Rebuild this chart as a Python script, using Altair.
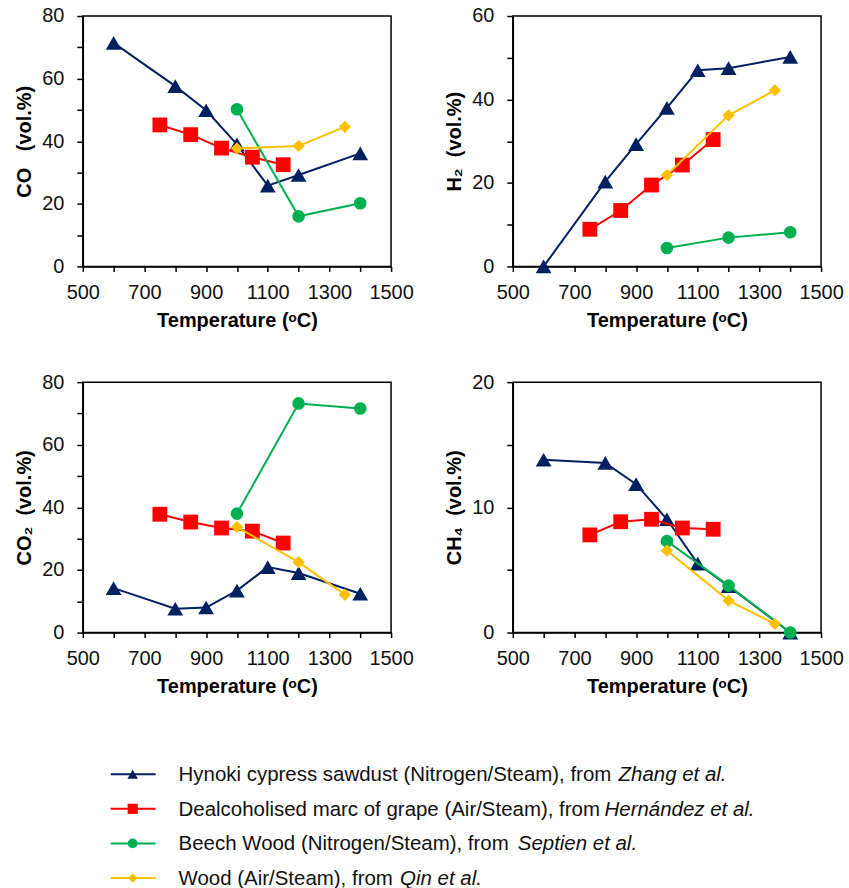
import altair as alt
import pandas as pd

# Temperatures (°C) at which each feedstock was gasified
hynoki_temp = [600, 800, 900, 1000, 1100, 1200, 1400]
grape_temp = [750, 850, 950, 1050, 1150]
beech_temp = [1000, 1200, 1400]
wood_temp = [1000, 1200, 1350]

# CO (vol.%)
co_hynoki = [71.4, 57.6, 49.9, 39.0, 25.8, 29.2, 36.1]
co_grape = [45.2, 42.1, 37.8, 34.9, 32.5]
co_beech = [50.2, 16.0, 20.2]
co_wood = [37.7, 38.5, 44.6]

# H2 (vol.%)
h2_hynoki = [0.0, 20.3, 29.3, 38.0, 47.0, 47.5, 50.2]
h2_grape = [8.9, 13.4, 19.5, 24.3, 30.4]
h2_beech = [4.4, 6.9, 8.2]
h2_wood = [21.9, 36.2, 42.2]

# CO2 (vol.%)
co2_hynoki = [14.2, 7.6, 8.0, 13.4, 20.9, 19.0, 12.4]
co2_grape = [37.8, 35.3, 33.4, 32.4, 28.6]
co2_beech = [38.0, 73.2, 71.6]
co2_wood = [33.7, 22.5, 12.1]

# CH4 (vol.%)
ch4_hynoki = [13.8, 13.55, 11.85, 9.05, 5.5, 3.7, 0.0]
ch4_grape = [7.8, 8.85, 9.05, 8.35, 8.25]
ch4_beech = [7.3, 3.75, 0.0]
ch4_wood = [6.55, 2.55, 0.7]

series_keys = ["hynoki", "grape", "beech", "wood"]
series_labels = [
    "Hynoki cypress sawdust (Nitrogen/Steam), from",
    "Dealcoholised marc of grape (Air/Steam), from",
    "Beech Wood (Nitrogen/Steam), from",
    "Wood (Air/Steam), from",
]
series_refs = ["Zhang et al.", "Hernández et al.", "Septien et al.", "Qin et al."]

temps = {"hynoki": hynoki_temp, "grape": grape_temp, "beech": beech_temp, "wood": wood_temp}
gases = {
    "CO": {"hynoki": co_hynoki, "grape": co_grape, "beech": co_beech, "wood": co_wood},
    "H2": {"hynoki": h2_hynoki, "grape": h2_grape, "beech": h2_beech, "wood": h2_wood},
    "CO2": {"hynoki": co2_hynoki, "grape": co2_grape, "beech": co2_beech, "wood": co2_wood},
    "CH4": {"hynoki": ch4_hynoki, "grape": ch4_grape, "beech": ch4_beech, "wood": ch4_wood},
}

# styling of each series
colors = {"hynoki": "#002060", "grape": "#ff0000", "beech": "#00b050", "wood": "#ffc000"}
shapes = {"hynoki": "triangle-up", "grape": "square", "beech": "circle", "wood": "diamond"}
sizes = {"hynoki": 250, "grape": 220, "beech": 160, "wood": 150}
legend_sizes = {"hynoki": 110, "grape": 90, "beech": 75, "wood": 90}

FONT = "Liberation Sans"
PANEL_W, PANEL_H = 309, 251


def panel(gas, title, y_max, tick_step, label_step):
    rows = []
    for key in series_keys:
        for t, v in zip(temps[key], gases[gas][key]):
            rows.append({"T": t, "v": v, "series": key})
    df = pd.DataFrame(rows)

    x = alt.X(
        "T:Q",
        scale=alt.Scale(domain=[500, 1500], nice=False, zero=False),
        axis=alt.Axis(
            title="Temperature (ᵒC)",
            values=list(range(500, 1501, 100)),
            labelExpr="datum.value % 200 == 100 ? datum.label : ''",
            format="d",
            tickSize=5,
            labelPadding=11,
            titlePadding=8,
            labelFlush=False,
            labelOverlap=False,
        ),
    )
    y = alt.Y(
        "v:Q",
        scale=alt.Scale(domain=[0, y_max], nice=False),
        axis=alt.Axis(
            title=title,
            values=list(range(0, y_max + 1, tick_step)),
            labelExpr=f"datum.value % {label_step} == 0 ? datum.label : ''",
            tickSize=6,
            labelPadding=13,
            titlePadding=7,
            labelOverlap=False,
        ),
    )
    base = alt.Chart(df).encode(x=x, y=y)
    layers = []
    for key in series_keys:
        sub = base.transform_filter(alt.datum.series == key)
        layers.append(sub.mark_line(color=colors[key], strokeWidth=2))
        layers.append(
            sub.mark_point(
                filled=True, opacity=1, shape=shapes[key], size=sizes[key], color=colors[key]
            )
        )
    return alt.layer(*layers).properties(width=PANEL_W, height=PANEL_H)


p_co = panel("CO", "CO\u00a0\u00a0\u00a0(vol.%)", 80, 10, 20)
p_h2 = panel("H2", "H₂\u00a0\u00a0(vol.%)", 60, 10, 20)
p_co2 = panel("CO2", "CO₂\u00a0\u00a0(vol.%)", 80, 10, 20)
p_ch4 = panel("CH4", "CH₄\u00a0\u00a0(vol.%)", 20, 5, 10)

# legend drawn as its own small chart so the references can be set in italics
leg_df = pd.DataFrame(
    {
        "series": series_keys,
        "row": list(range(len(series_keys))),
        "label": series_labels,
        "ref": series_refs,
    }
)
leg_y = alt.Y(
    "row:Q",
    scale=alt.Scale(domain=[0, len(series_keys) - 1], range=[36, 140], nice=False, zero=False),
    axis=None,
)
leg_color = alt.Color(
    "series:N",
    scale=alt.Scale(domain=series_keys, range=[colors[k] for k in series_keys]),
    legend=None,
)
leg_shape = alt.Shape(
    "series:N",
    scale=alt.Scale(domain=series_keys, range=[shapes[k] for k in series_keys]),
    legend=None,
)
leg_size = alt.Size(
    "series:N",
    scale=alt.Scale(domain=series_keys, range=[legend_sizes[k] for k in series_keys]),
    legend=None,
)
leg_base = alt.Chart(leg_df)
leg_lines = leg_base.mark_rule(strokeWidth=2).encode(
    x=alt.value(28), x2=alt.value(73), y=leg_y, color=leg_color
)
leg_marks = leg_base.mark_point(filled=True, opacity=1).encode(
    x=alt.value(50), y=leg_y, color=leg_color, shape=leg_shape, size=leg_size
)
leg_text = leg_base.mark_text(
    align="left", baseline="middle", font=FONT, fontSize=20.5, color="#111111", dy=1
).encode(x=alt.value(96), y=leg_y, text="label:N")

ref_x = {"hynoki": 537, "grape": 523, "beech": 436, "wood": 318}
leg_refs = [
    leg_base.transform_filter(alt.datum.series == key)
    .mark_text(
        align="left",
        baseline="middle",
        font=FONT,
        fontSize=20.5,
        fontStyle="italic",
        color="#111111",
        dy=1,
    )
    .encode(x=alt.value(ref_x[key]), y=leg_y, text="ref:N")
    for key in series_keys
]
legend = alt.layer(leg_lines, leg_marks, leg_text, *leg_refs).properties(
    width=PANEL_W * 2 + 122,
    height=150,
    view=alt.ViewBackground(stroke="transparent"),
)

row1 = alt.hconcat(p_co, p_h2, spacing=122, bounds="flush")
row2 = alt.hconcat(p_co2, p_ch4, spacing=122, bounds="flush")

chart = (
    alt.vconcat(row1, row2, legend, spacing=40)
    .properties(padding={"left": 14, "top": 4, "right": 5, "bottom": 0}, background="white")
    .configure_axis(
        labelFont=FONT,
        labelFontSize=20,
        labelColor="#111111",
        titleFont=FONT,
        titleFontSize=20,
        titleFontWeight="bold",
        titleColor="#000000",
        domainColor="black",
        domainWidth=1.5,
        tickColor="black",
        tickWidth=1.5,
        grid=False,
    )
    .configure_view(stroke="black", strokeWidth=1.5)
)

chart.save("out.html", embed_options={"renderer": "svg", "actions": False})
